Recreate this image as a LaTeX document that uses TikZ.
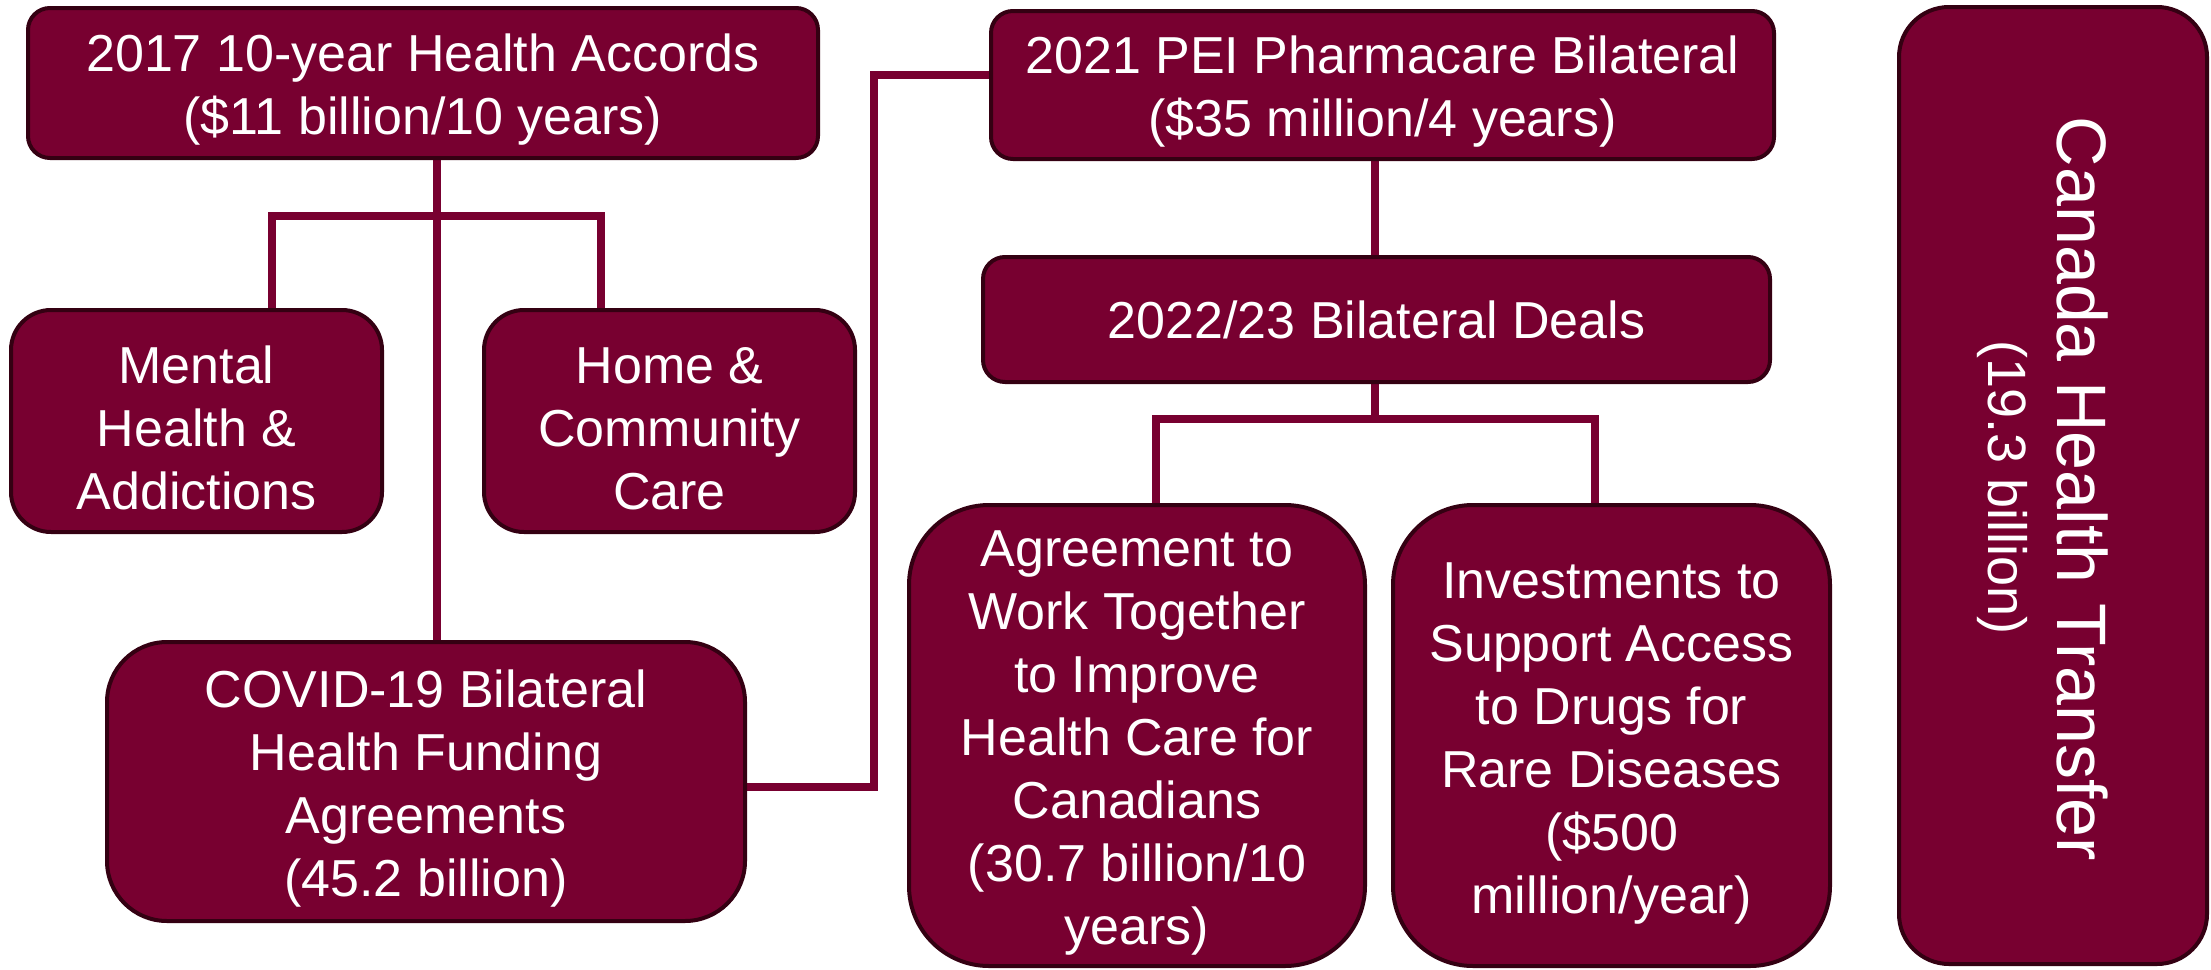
\documentclass[tikz,border=0pt]{standalone}
\usepackage{fontspec}
\setmainfont{Liberation Sans}
\definecolor{maroonfill}{RGB}{120,0,48}
\definecolor{maroonedge}{RGB}{52,0,18}
\pgfdeclarelayer{background}
\pgfsetlayers{background,main}
\newcommand{\topstrut}{\rule{0pt}{51pt}}
\begin{document}
\begin{tikzpicture}[x=1pt,y=-1pt,
  box/.style={draw=maroonedge, fill=maroonfill, line width=4pt, text=white,
    align=center, inner sep=0pt, font=\fontsize{52}{63}\selectfont},
  link/.style={draw=maroonfill, line width=8pt, line join=miter},
  vtext/.style={rotate=-90, text=white, inner sep=0pt}]
\useasboundingbox (0,0) rectangle (2211,969);

% boxes
\node[box, rounded corners=22pt, minimum width=790pt, minimum height=150pt] (acc) at (423,83)
  {\topstrut 2017 10-year Health Accords\\(\$11 billion/10 years)};
\node[box, rounded corners=40pt, minimum width=371pt, minimum height=222pt] (mental) at (196.5,421)
  {\topstrut Mental\\Health \&\\Addictions};
\node[box, rounded corners=40pt, minimum width=371pt, minimum height=222pt] (home) at (669.5,421)
  {\topstrut Home \&\\Community\\Care};
\node[box, rounded corners=60pt, minimum width=638pt, minimum height=279pt] (covid) at (426,781.5)
  {\topstrut COVID-19 Bilateral\\Health Funding\\Agreements\\(45.2 billion)};
\node[box, rounded corners=22pt, minimum width=783pt, minimum height=148pt] (pei) at (1382.5,85)
  {\topstrut 2021 PEI Pharmacare Bilateral\\(\$35 million/4 years)};
\node[box, rounded corners=22pt, minimum width=787pt, minimum height=125pt] (deals) at (1376.5,319.5)
  {2022/23 Bilateral Deals};
\node[box, rounded corners=80pt, minimum width=456pt, minimum height=461pt] (agree) at (1137,735.5)
  {\topstrut Agreement to\\Work Together\\to Improve\\Health Care for\\Canadians\\(30.7 billion/10\\years)};
\node[box, rounded corners=80pt, minimum width=437pt, minimum height=461pt] (invest) at (1611.5,735.5)
  {\topstrut Investments to\\Support Access\\to Drugs for\\Rare Diseases\\(\$500\\million/year)};
\node[box, rounded corners=50pt, minimum width=308pt, minimum height=957pt] (cht) at (2053,485.5) {};
\node[vtext, font=\fontsize{70}{84}\selectfont] (chtA) at (2082,489) {Canada Health Transfer};
\node[vtext, font=\fontsize{54}{64}\selectfont] (chtB) at (2002,488) {(19.3 billion)};

% connectors
\coordinate (t1) at (437,0);
\coordinate (barL) at (272,216);
\coordinate (barR) at (601,216);
\coordinate (cj) at (874,787);
\coordinate (pj) at (874,75);
\coordinate (t2) at (1375,0);
\coordinate (b2L) at (1156,419);
\coordinate (b2R) at (1595,419);
\begin{pgfonlayer}{background}
\draw[link] (acc.south -| t1) -- (covid.north -| t1);
\draw[link] (mental.north -| barL) -- (barL) -- (barR) -- (home.north -| barR);
\draw[link] (covid.east |- cj) -- (cj) -- (pj) -- (pei.west |- pj);
\draw[link] (pei.south -| t2) -- (deals.north -| t2);
\draw[link] (deals.south -| t2) -- (b2L -| t2);
\draw[link] (agree.north -| b2L) -- (b2L) -- (b2R) -- (invest.north -| b2R);
\end{pgfonlayer}
\end{tikzpicture}
\end{document}
